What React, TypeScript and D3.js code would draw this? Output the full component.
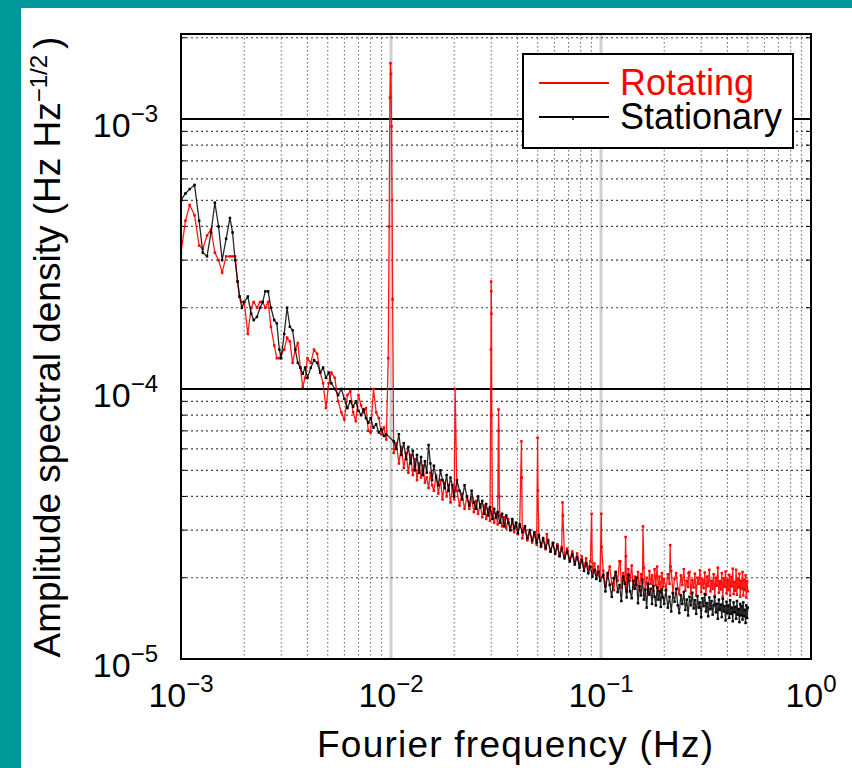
import React from "react";
import * as d3 from "d3";

// rows: [frequency (mHz), Stationary (1e-5 Hz/√Hz), Rotating (1e-5 Hz/√Hz)]
const lowBand: [number, number, number][] = [
  [1.0, 50, 32], [1.05, 53, 42], [1.1, 55, 48], [1.16, 57, 44], [1.22, 42, 34],
  [1.27, 32, 33], [1.33, 31, 37], [1.39, 38, 39], [1.45, 49, 32], [1.51, 40, 30],
  [1.57, 30, 27], [1.64, 36, 31], [1.71, 43, 31], [1.76, 38, 31], [1.81, 30, 31],
  [1.86, 25, 25], [1.9, 22, 22], [1.95, 20, 21], [2.0, 21, 21], [2.08, 22, 16],
  [2.16, 19, 20], [2.22, 18, 21], [2.3, 18.5, 20], [2.38, 20, 21], [2.45, 21, 21],
  [2.52, 23, 20], [2.6, 23, 21], [2.68, 20, 17], [2.78, 18, 14.5], [2.86, 17.5, 13],
  [2.94, 14, 13], [3.0, 13, 13.5], [3.1, 16, 14], [3.2, 20, 15.5], [3.3, 17, 15],
  [3.4, 16.5, 12.5], [3.5, 14, 14], [3.6, 12.5, 14.8], [3.7, 12, 12], [3.8, 11.4, 10.2],
  [3.9, 12, 11], [4.0, 11, 13], [4.15, 12, 12.5], [4.3, 12.8, 14], [4.45, 12.5, 13.5],
  [4.6, 11.5, 11.5], [4.75, 12, 10.5], [4.9, 11, 8.5], [5.05, 11.5, 10.5], [5.2, 10.5, 11.5],
  [5.4, 10, 11], [5.6, 9.5, 9], [5.8, 10, 8.2], [6.0, 9.2, 7.7], [6.2, 8.5, 9.5],
  [6.4, 9.0, 9.8], [6.6, 8.6, 8.2], [6.8, 9.0, 7.6], [7.0, 8.3, 9.5], [7.2, 8.0, 8.7],
  [7.4, 8.4, 8.2], [7.6, 7.8, 8.5], [7.8, 7.5, 7.0], [8.0, 7.8, 6.9], [8.25, 7.2, 10],
  [8.5, 7.4, 8.2], [8.75, 6.9, 7.8], [9.0, 7.1, 6.8], [9.25, 6.7, 7.2], [9.5, 6.8, 6.5],
];

const midBand: [number, number, number][] = [
  [10.3, 6.4, 5.8], [10.6, 6.0, 6.3], [10.9, 6.8, 5.3], [11.2, 5.7, 6.1], [11.5, 6.3, 5.1],
  [11.8, 5.5, 5.8], [12.1, 6.1, 4.9], [12.4, 5.3, 5.7], [12.7, 5.9, 4.8], [13.0, 5.0, 5.5],
  [13.3, 5.7, 4.6], [13.6, 4.9, 5.3], [13.9, 5.6, 4.7], [14.2, 4.8, 5.2], [14.5, 5.4, 4.5],
  [14.8, 4.9, 4.7], [15.1, 6.2, 4.3], [15.4, 5.3, 4.9], [15.7, 4.6, 4.4], [16.0, 5.2, 4.2],
  [16.4, 4.7, 4.8], [16.8, 4.4, 4.1], [17.2, 5.0, 4.6], [17.6, 4.6, 3.9], [18.0, 4.3, 4.5],
  [18.4, 4.8, 4.0], [18.8, 4.2, 4.4], [19.2, 4.7, 3.8], [19.6, 4.4, 4.3], [20.0, 4.0, 3.9],
  [20.6, 4.6, 4.2], [21.2, 4.2, 3.7], [21.8, 3.9, 4.1], [22.4, 4.4, 3.6], [23.0, 4.0, 4.0],
  [23.6, 3.7, 3.6], [24.2, 4.2, 3.95], [24.8, 3.8, 3.5], [25.4, 3.6, 3.85], [26.0, 4.0, 3.45],
  [26.6, 3.65, 3.75], [27.2, 3.85, 3.35], [27.8, 3.45, 3.7], [28.4, 3.75, 3.3], [29.0, 3.4, 3.6],
  [29.6, 3.65, 3.25], [30.4, 3.3, 3.5], [31.0, 3.6, 3.2], [31.6, 3.35, 3.45], [32.2, 3.5, 3.15],
  [33.0, 3.2, 3.4], [33.8, 3.45, 3.1], [34.6, 3.1, 3.35], [35.4, 3.4, 3.05], [36.2, 3.2, 3.3],
  [37.0, 3.0, 3.0], [37.8, 3.3, 3.25], [38.6, 3.05, 2.95], [39.4, 3.2, 3.15], [40.2, 2.92, 2.9],
  [41.0, 3.15, 3.1], [42.2, 2.95, 2.8], [43.4, 3.1, 3.05], [44.6, 2.8, 2.75], [45.8, 3.0, 2.95],
  [47.0, 2.75, 2.7], [48.2, 2.95, 2.9], [49.4, 2.7, 2.65], [50.6, 2.88, 2.85], [51.8, 2.62, 2.6],
  [53.0, 2.8, 2.78], [54.5, 2.58, 2.55], [56.0, 2.75, 2.72], [57.5, 2.5, 2.5], [59.0, 2.68, 2.7],
  [60.5, 2.45, 2.48], [62.0, 2.62, 2.66], [63.5, 2.4, 2.42], [65.0, 2.56, 2.6], [67.0, 2.36, 2.4],
  [69.0, 2.5, 2.56], [71.0, 2.3, 2.34], [73.0, 2.44, 2.5], [75.0, 2.24, 2.3], [77.0, 2.38, 2.46],
  [79.0, 2.18, 2.24], [81.0, 2.32, 2.4], [83.0, 2.12, 2.2], [85.0, 2.26, 2.36], [87.0, 2.08, 2.15],
  [89.0, 2.2, 2.3], [91.0, 2.02, 2.1], [93.0, 2.14, 2.26], [95.0, 1.98, 2.05], [97.0, 2.1, 2.2],
  [99.0, 1.95, 2.02],
];

const highBand: [number, number, number][] = [
  [102.5, 2.05, 2.12], [105, 1.78, 1.86], [107.5, 2.08, 2.05], [110, 1.88, 2.2], [112.5, 1.7, 1.9],
  [115, 1.99, 1.8], [117.5, 2.1, 2.1], [120, 1.77, 1.95], [122.5, 1.88, 2.3], [125, 1.64, 1.84],
  [127.5, 2.02, 2.08], [130, 1.9, 1.92], [132.5, 1.69, 1.78], [135, 2.05, 2.15], [137.5, 1.78, 1.95],
  [140, 1.68, 2.22], [142.5, 1.95, 1.83], [145, 1.82, 2.02], [147.5, 2.0, 1.88], [150, 1.61, 2.1],
  [152.5, 1.86, 1.8], [155, 1.72, 2.06], [157.5, 1.97, 1.92], [160, 1.66, 2.18], [162.5, 1.8, 1.82],
  [165, 1.55, 2.0], [167.5, 1.9, 1.76], [170, 1.73, 2.12], [172.5, 1.82, 1.9], [175, 1.6, 2.04],
  [177.5, 1.86, 1.79], [180, 1.7, 2.15], [182.5, 1.58, 1.88], [185, 1.84, 2.2], [187.5, 1.66, 1.8],
  [190, 1.78, 2.02], [192.5, 1.56, 1.76], [195, 1.81, 2.08], [197.5, 1.69, 1.85], [200, 1.6, 1.98],
  [204, 1.8, 1.8], [208, 1.55, 2.06], [212, 1.7, 1.9], [216, 1.5, 2.12], [220, 1.75, 1.76],
  [224, 1.63, 1.98], [228, 1.82, 2.08], [232, 1.58, 1.82], [236, 1.48, 1.74], [240, 1.72, 2.04],
  [244, 1.6, 1.88], [248, 1.77, 2.15], [252, 1.52, 1.79], [256, 1.66, 1.95], [260, 1.45, 1.85],
  [264, 1.7, 2.1], [268, 1.58, 1.75], [272, 1.76, 1.96], [276, 1.54, 1.84], [280, 1.65, 2.07],
  [284, 1.47, 1.72], [288, 1.71, 2.0], [292, 1.55, 1.9], [296, 1.62, 2.13], [300, 1.43, 1.77],
  [304, 1.68, 1.97], [308, 1.57, 1.83], [312, 1.74, 2.09], [316, 1.5, 1.73], [320, 1.61, 2.02],
  [324, 1.44, 1.86], [328, 1.69, 2.14], [332, 1.53, 1.78], [336, 1.64, 1.95], [340, 1.46, 1.82],
  [344, 1.58, 2.06], [348, 1.7, 1.71], [352, 1.49, 2.0], [356, 1.6, 1.87], [360, 1.41, 2.18],
  [364, 1.66, 1.76], [368, 1.52, 1.94], [372, 1.59, 1.81], [376, 1.43, 2.08], [380, 1.67, 1.7],
  [384, 1.5, 1.99], [388, 1.57, 1.85], [392, 1.39, 2.11], [396, 1.63, 1.75], [400, 1.48, 1.96],
  [404, 1.58, 1.8], [408, 1.42, 2.05], [412, 1.65, 1.72], [416, 1.47, 2.01], [420, 1.55, 1.86],
  [424, 1.38, 2.16], [428, 1.62, 1.74], [432, 1.49, 1.93], [436, 1.56, 1.79], [440, 1.41, 2.14],
  [444, 1.64, 1.73], [448, 1.46, 1.98], [452, 1.53, 1.84], [456, 1.37, 2.07], [460, 1.6, 1.7],
  [464, 1.45, 1.95], [468, 1.57, 1.82], [472, 1.4, 2.1], [476, 1.62, 1.72], [480, 1.44, 1.97],
  [484, 1.52, 1.8], [488, 1.36, 2.04], [492, 1.58, 1.69], [496, 1.42, 1.94], [500, 1.55, 1.78],
];

// Rotating-only spectral lines: [frequency (mHz), amplitude (1e-5)]
const redSpikes: [number, number][] = [
  [9.7, 13], [9.8, 40], [9.88, 120], [9.94, 161], [10.0, 147], [10.06, 94], [10.12, 50], [10.18, 21.5],
  [20.2, 10],
  [29.92, 14], [29.98, 25], [30.04, 23], [30.1, 19], [30.2, 8],
  [32.5, 8.4], [32.65, 7.0], [32.8, 4.0],
  [41.8, 6.4], [41.95, 4.7],
  [49.9, 6.6], [50.1, 4.2],
  [55.2, 2.9],
  [65.6, 3.8], [65.9, 3.4],
  [90.2, 3.45],
  [100.3, 3.45], [100.6, 2.6],
  [123.5, 2.3],
  [131, 2.83], [131.5, 2.4],
  [158.5, 3.1],
  [213.5, 2.64], [214.5, 2.2],
  [261, 2.08],
];

const xTickExps = [-3, -2, -1, 0];
const yTickExps = [-5, -4, -3];
const legendLabels = ["Rotating", "Stationary"];
const seriesColors = ["#ff0000", "#000000"];

const FONT = "'Liberation Sans', Arial, Helvetica, sans-serif";

export default function App() {
  const W = 852, H = 768;
  const L = 181, R = 811, T = 34, B = 659;
  const x = d3.scaleLog().domain([1e-3, 1]).range([L, R]);
  const y = d3.scaleLog().domain([1e-5, 2.065e-3]).range([B, T]);

  const rows = [...lowBand, ...midBand, ...highBand];
  const black: [number, number][] = rows.map((r) => [r[0] / 1000, r[1] * 1e-5]);
  const red: [number, number][] = [
    ...rows.map((r) => [r[0] / 1000, r[2] * 1e-5] as [number, number]),
    ...redSpikes.map((s) => [s[0] / 1000, s[1] * 1e-5] as [number, number]),
  ].sort((a, b) => a[0] - b[0]);

  const line = d3.line<[number, number]>().x((d) => x(d[0])).y((d) => y(d[1]));

  const xMinor: number[] = [];
  for (let k = -3; k <= -1; k++) for (let m = 2; m <= 9; m++) xMinor.push(m * Math.pow(10, k));
  const yMinor: number[] = [];
  for (let k = -5; k <= -3; k++)
    for (let m = 2; m <= 9; m++) {
      const v = m * Math.pow(10, k);
      if (v < 2.065e-3) yMinor.push(v);
    }

  return (
    <div style={{ position: "absolute", left: 0, top: 0 }}>
      <svg width={W} height={H} style={{ display: "block" }} fontFamily={FONT}>
        <rect x={0} y={0} width={W} height={H} fill="#ffffff" />
        <rect x={0} y={0} width={W} height={8} fill="#009999" />
        <rect x={0} y={0} width={21} height={H} fill="#009999" />
        <defs>
          <clipPath id="plotclip">
            <rect x={L} y={T} width={R - L} height={B - T} />
          </clipPath>
        </defs>

        {/* vertical grid */}
        {xMinor.map((v, i) => (
          <line key={"xm" + i} x1={x(v)} x2={x(v)} y1={T} y2={B} stroke="#666" strokeWidth={1} strokeDasharray="1.5,2.5" />
        ))}
        {[1e-2, 1e-1].map((v, i) => (
          <line key={"xM" + i} x1={x(v)} x2={x(v)} y1={T} y2={B} stroke="#cfcfcf" strokeWidth={3} />
        ))}
        {/* horizontal grid */}
        {yMinor.map((v, i) => (
          <line key={"ym" + i} x1={L} x2={R} y1={y(v)} y2={y(v)} stroke="#444" strokeWidth={1.2} strokeDasharray="2,3" />
        ))}
        {[1e-4, 1e-3].map((v, i) => (
          <line key={"yM" + i} x1={L} x2={R} y1={y(v)} y2={y(v)} stroke="#000" strokeWidth={2} />
        ))}
        {/* minor ticks on left/right */}
        {yMinor.map((v, i) => (
          <g key={"yt" + i}>
            <line x1={L} x2={L + 5} y1={y(v)} y2={y(v)} stroke="#000" strokeWidth={1} />
            <line x1={R - 5} x2={R} y1={y(v)} y2={y(v)} stroke="#000" strokeWidth={1} />
          </g>
        ))}

        {/* data */}
        <g clipPath="url(#plotclip)">
          <path d={line(red) || ""} fill="none" stroke={seriesColors[0]} strokeWidth={1.3} strokeOpacity={0.9} />
          {red.map((d, i) => (
            <rect key={"rp" + i} x={x(d[0]) - 1.25} y={y(d[1]) - 1.25} width={2.5} height={2.5} fill={seriesColors[0]} />
          ))}
          <path d={line(black) || ""} fill="none" stroke={seriesColors[1]} strokeWidth={1.3} strokeOpacity={0.85} />
          {black.map((d, i) => (
            <rect key={"bp" + i} x={x(d[0]) - 1.25} y={y(d[1]) - 1.25} width={2.5} height={2.5} fill={seriesColors[1]} />
          ))}
        </g>

        {/* frame */}
        <rect x={L} y={T} width={R - L} height={B - T} fill="none" stroke="#000" strokeWidth={2} />

        {/* x tick labels */}
        {xTickExps.map((e) => (
          <text key={"xl" + e} x={x(Math.pow(10, e))} y={707} textAnchor="middle" fontSize={34} fill="#000">
            10
            <tspan dy={-15} fontSize={24}>{e < 0 ? "\u2212" + Math.abs(e) : String(e)}</tspan>
          </text>
        ))}
        {/* y tick labels */}
        {yTickExps.map((e) => (
          <text key={"yl" + e} x={158} y={y(Math.pow(10, e)) + 18} textAnchor="end" fontSize={34} fill="#000">
            10
            <tspan dy={-15} fontSize={24}>{"\u2212" + Math.abs(e)}</tspan>
          </text>
        ))}

        {/* axis titles */}
        <text x={515} y={757} textAnchor="middle" fontSize={37} textLength={396} lengthAdjust="spacing" fill="#000">
          Fourier frequency (Hz)
        </text>
        <text transform="translate(60,347) rotate(-90)" textAnchor="middle" fontSize={37} fill="#000">
          Amplitude spectral density (Hz Hz
          <tspan dy={-13} fontSize={24}>{"\u22121/2"}</tspan>
          <tspan dy={13} dx={6}>)</tspan>
        </text>

        {/* legend */}
        <rect x={523} y={54} width={270} height={94} fill="#fff" stroke="#000" strokeWidth={2} />
        {legendLabels.map((lab, i) => (
          <g key={lab}>
            <line x1={539} x2={609} y1={83 + i * 34} y2={83 + i * 34} stroke={seriesColors[i]} strokeWidth={2} />
            {i === 1 && <line x1={573} x2={573} y1={117} y2={120} stroke="#000" strokeWidth={1.5} />}
            <text x={620} y={95 + i * 34} fontSize={36} fill={seriesColors[i]}>
              {lab}
            </text>
          </g>
        ))}
      </svg>
    </div>
  );
}
